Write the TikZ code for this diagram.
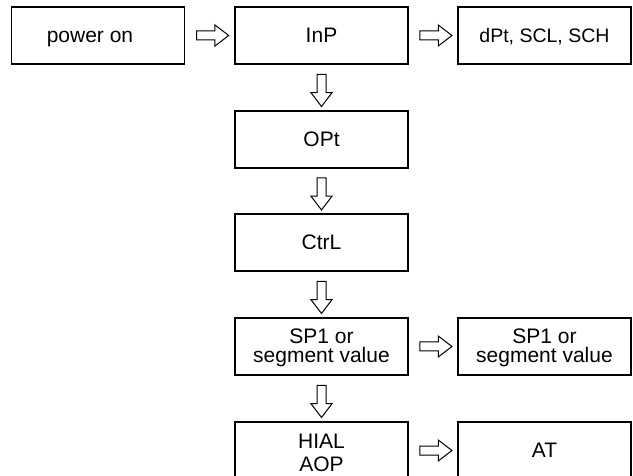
\documentclass[tikz,border=0pt]{standalone}
\usepackage{fontspec}
\setmainfont{Liberation Sans}
\usetikzlibrary{shapes.arrows,calc}
\begin{document}
\begin{tikzpicture}[x=1pt,y=-1pt,
  box/.style={draw=black,line width=1.2pt,minimum width=173pt,minimum height=57pt,
    inner sep=0pt,align=center,font=\fontsize{21}{19}\selectfont,
    text height=14.6pt,text depth=0pt},
  twoline/.style={text height=#1,text depth=0pt},
  blockarrow/.style={single arrow,draw=black,line width=1pt,fill=white,
    minimum height=32pt,minimum width=20pt,inner sep=4pt,
    single arrow head extend=6pt,single arrow tip angle=75,
    single arrow head indent=0pt,anchor=center}]
\useasboundingbox (0,0) rectangle (633,476);
\node[box] (pw) at (98,35.5) {power on\hspace*{16pt}};
\node[box] (inp) at (321.5,35.5) {InP};
\node[box,font=\fontsize{19.5}{19}\selectfont] (dpt) at (544.5,35.5) {dPt, SCL, SCH};
\node[box] (opt) at (321.5,139.5) {OPt};
\node[box] (ctrl) at (321.5,242.5) {CtrL};
\node[box,twoline=32pt] (sp) at (321.5,346.5) {SP1 or\\segment value};
\node[box,twoline=32pt] (sp2) at (544.5,346.5) {SP1 or\\segment value};
\node[box,twoline=42pt] (hial) at (321.5,450.5) {HIAL\\[4.4pt]AOP};
\node[box] (at) at (544.5,450.5) {AT};
% horizontal arrows
\node[blockarrow] (a1) at ($(pw.east)!0.5!(inp.west)$) {};
\node[blockarrow] (a2) at ($(inp.east)!0.5!(dpt.west)$) {};
\node[blockarrow] (a3) at ($(sp.east)!0.5!(sp2.west)$) {};
\node[blockarrow] (a4) at ($(hial.east)!0.5!(at.west)$) {};
% vertical arrows
\node[blockarrow,shape border rotate=270] (v1) at ($(inp.south)!0.5!(opt.north)$) {};
\node[blockarrow,shape border rotate=270] (v2) at ($(opt.south)!0.5!(ctrl.north)$) {};
\node[blockarrow,shape border rotate=270] (v3) at ($(ctrl.south)!0.5!(sp.north)$) {};
\node[blockarrow,shape border rotate=270] (v4) at ($(sp.south)!0.5!(hial.north)$) {};
\end{tikzpicture}
\end{document}
